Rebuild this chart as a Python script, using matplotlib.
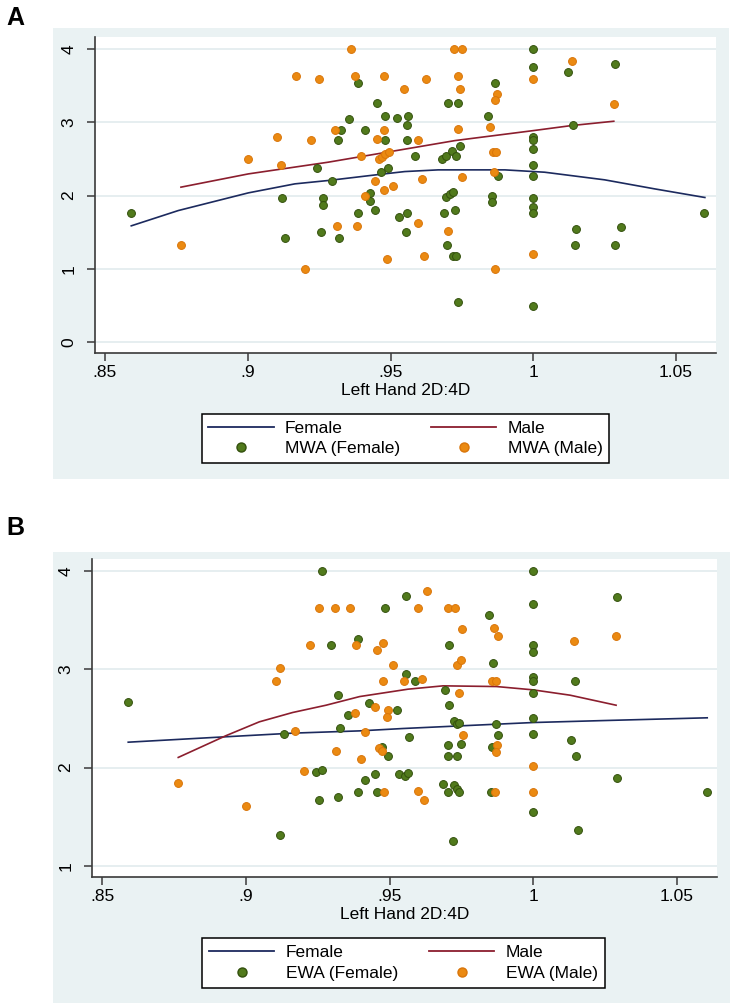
import matplotlib
matplotlib.use("Agg")
import matplotlib.pyplot as plt
from matplotlib.lines import Line2D
from matplotlib.patches import Rectangle

plt.rcParams['font.family'] = ['Liberation Sans', 'DejaVu Sans']

# ---- data, panel A (MWA) ----
a_fem_x = [0.9386, 0.9451, 0.9354, 0.9481, 0.9524, 0.9562, 0.9328, 0.9411, 0.9317, 0.9481,
           0.9557, 0.9557, 0.9244, 0.9296, 0.9467, 0.9491, 0.9120, 0.9264, 0.9264, 0.9429,
           0.9428, 0.9446, 0.9386, 0.9530, 0.9558, 0.9555, 0.9255, 0.9318, 0.9131, 0.8592,
           1.0, 1.0, 1.0122, 1.0285, 0.9867, 0.9702, 0.9738, 0.9840, 1.0140, 1.0,
           1.0, 1.0, 1.0, 1.0, 1.0, 1.0, 1.0, 0.9585, 0.9681, 0.9696,
           0.9714, 0.9731, 0.9743, 0.9875, 0.9696, 0.9708, 0.9720, 0.9854, 0.9857, 0.9689,
           0.9726, 0.9699, 0.9720, 0.9731, 0.9735, 1.0, 1.0150, 1.0145, 1.0309, 1.0286,
           1.0598]
a_fem_y = [3.53, 3.26, 3.05, 3.09, 3.06, 3.09, 2.89, 2.89, 2.76, 2.76,
           2.96, 2.76, 2.37, 2.20, 2.32, 2.37, 1.96, 1.96, 1.87, 2.04,
           1.92, 1.80, 1.76, 1.71, 1.76, 1.50, 1.50, 1.42, 1.42, 1.76,
           4.00, 3.76, 3.69, 3.80, 3.54, 3.26, 3.26, 3.09, 2.96, 2.80,
           2.76, 2.63, 2.42, 2.26, 1.96, 1.84, 1.76, 2.54, 2.50, 2.54,
           2.61, 2.54, 2.68, 2.26, 1.98, 2.02, 2.05, 1.99, 1.91, 1.76,
           1.80, 1.33, 1.17, 1.17, 0.55, 0.49, 1.54, 1.33, 1.57, 1.33,
           1.76]
a_male_x = [0.9360, 0.9169, 0.9251, 0.9376, 0.9476, 0.9548, 0.9307, 0.9104, 0.9221, 0.9476,
            0.9451, 0.9001, 0.9115, 0.9398, 0.9459, 0.9469, 0.9482, 0.9494, 0.9445, 0.9476,
            0.9507, 0.9412, 0.9311, 0.9383, 0.8766, 0.9488, 0.9201,
            0.9722, 0.9749, 1.0134, 0.9626, 0.9738, 0.9745, 1.0, 0.9874, 0.9867, 1.0282,
            0.9735, 0.9850, 0.9597, 0.9859, 0.9870, 0.9610, 0.9752, 0.9863, 0.9597, 0.9702,
            0.9617, 1.0, 0.9867]
a_male_y = [4.00, 3.63, 3.59, 3.63, 3.63, 3.45, 2.89, 2.80, 2.76, 2.89,
            2.77, 2.50, 2.42, 2.54, 2.50, 2.53, 2.57, 2.59, 2.20, 2.08,
            2.13, 2.00, 1.59, 1.59, 1.33, 1.13, 1.00,
            4.00, 4.00, 3.83, 3.59, 3.63, 3.46, 3.59, 3.39, 3.30, 3.25,
            2.91, 2.93, 2.76, 2.59, 2.59, 2.22, 2.25, 2.32, 1.63, 1.51,
            1.17, 1.20, 1.00]
a_fem_fit_x = [0.8592, 0.8757, 0.9002, 0.9165, 0.9282, 0.9457, 0.955, 0.9667, 0.9901,
               1.004, 1.025, 1.0426, 1.0601]
a_fem_fit_y = [1.586, 1.795, 2.036, 2.159, 2.205, 2.286, 2.327, 2.35, 2.35,
               2.318, 2.214, 2.09, 1.973]
a_male_fit_x = [0.8766, 0.9002, 0.9282, 0.9568, 0.9726, 1.0, 1.0134, 1.0282]
a_male_fit_y = [2.114, 2.295, 2.455, 2.645, 2.75, 2.886, 2.955, 3.014]

# ---- data, panel B (EWA) ----
b_fem_x = [0.9265, 0.9558, 0.9484, 0.9389, 0.9298, 0.9558, 0.9319, 0.9430, 0.9355, 0.9526,
           0.8591, 0.9133, 0.9328, 0.9569, 0.9472, 0.9493, 0.9244, 0.9265, 0.9448, 0.9533,
           0.9553, 0.9415, 0.9389, 0.9455, 0.9256, 0.9319, 0.9120,
           1.0, 1.0, 1.0292, 0.9846, 0.9707, 1.0, 1.0, 0.9861, 0.9587, 1.0146,
           1.0, 1.0, 1.0, 0.9692, 0.9707, 0.9724, 0.9733, 0.9742, 0.9872, 1.0,
           0.9878, 1.0, 0.9704, 0.9747, 0.9704, 0.9736, 0.9858, 1.0131, 1.0149, 0.9564,
           1.0292, 0.9686, 0.9704, 0.9724, 0.9733, 0.9741, 0.9852, 1.0, 1.0155, 0.9719,
           1.0605]
b_fem_y = [4.00, 3.75, 3.62, 3.31, 3.25, 2.95, 2.74, 2.66, 2.54, 2.59,
           2.67, 2.34, 2.40, 2.31, 2.21, 2.12, 1.96, 1.98, 1.94, 1.94,
           1.92, 1.87, 1.75, 1.75, 1.67, 1.70, 1.32,
           4.00, 3.66, 3.74, 3.55, 3.25, 3.25, 3.18, 3.06, 2.88, 2.88,
           2.92, 2.88, 2.76, 2.79, 2.64, 2.47, 2.44, 2.45, 2.44, 2.50,
           2.33, 2.34, 2.23, 2.24, 2.12, 2.12, 2.21, 2.28, 2.12, 1.95,
           1.89, 1.83, 1.75, 1.82, 1.78, 1.75, 1.75, 1.55, 1.37, 1.25,
           1.75]
b_male_x = [0.9254, 0.9309, 0.9361, 0.9222, 0.9384, 0.9478, 0.9455, 0.9511, 0.9118, 0.9106,
            0.9478, 0.9549, 0.9448, 0.9496, 0.9490, 0.9379, 0.9170, 0.9415, 0.9313, 0.9401,
            0.9463, 0.9474, 0.9202, 0.9479, 0.8765, 0.9000,
            0.9630, 0.9600, 0.9704, 0.9727, 0.9753, 0.9864, 0.9878, 1.0140, 1.0288, 0.9736,
            0.9747, 0.9614, 0.9855, 0.9872, 0.9742, 0.9756, 0.9875, 0.9872, 1.0, 0.9867,
            1.0, 0.9600, 0.9620]
b_male_y = [3.62, 3.62, 3.62, 3.25, 3.25, 3.27, 3.20, 3.04, 3.01, 2.88,
            2.88, 2.88, 2.62, 2.59, 2.52, 2.56, 2.37, 2.36, 2.17, 2.09,
            2.20, 2.17, 1.97, 1.75, 1.84, 1.61,
            3.80, 3.62, 3.62, 3.62, 3.41, 3.42, 3.34, 3.29, 3.34, 3.04,
            3.09, 2.90, 2.88, 2.88, 2.76, 2.33, 2.23, 2.16, 2.02, 1.75,
            1.75, 1.76, 1.67]
b_fem_fit_x = [0.8591, 0.893, 0.9163, 0.9396, 0.9546, 0.9872, 1.0, 1.0245, 1.0605]
b_fem_fit_y = [2.259, 2.314, 2.351, 2.374, 2.398, 2.442, 2.459, 2.479, 2.507]
b_male_fit_x = [0.8765, 0.893, 0.9047, 0.9163, 0.9279, 0.9396, 0.9564, 0.9686, 0.9872,
                1.0, 1.0128, 1.0288]
b_male_fit_y = [2.104, 2.324, 2.466, 2.561, 2.635, 2.723, 2.798, 2.832, 2.825,
                2.791, 2.737, 2.635]

x_ticks = [0.85, 0.9, 0.95, 1.0, 1.05]
x_tick_labels = [".85", ".9", ".95", "1", "1.05"]

# colours
bg = "#EAF2F3"
navy = "#1C2A5E"
maroon = "#8B1E2E"
green_f, green_e = "#517A1C", "#33500D"
orange_f, orange_e = "#EB8A12", "#D9750A"
axcol = "#3A3A3A"

W, H = 735, 1008
fig = plt.figure(figsize=(W / 100, H / 100), dpi=100)
fig.patch.set_facecolor("white")


def box(x0, y0, x1, y1):
    return [x0 / W, 1 - y1 / H, (x1 - x0) / W, (y1 - y0) / H]


def panel(outer, inner, ylim, yticks, fx, fy, mx, my, ffx, ffy, mfx, mfy,
          xlim, leg_center, name, letter, letter_y):
    ox = box(*outer)
    fig.add_artist(Rectangle((ox[0], ox[1]), ox[2], ox[3], transform=fig.transFigure,
                             facecolor=bg, edgecolor="none", zorder=0))
    ax = fig.add_axes(box(*inner))
    ax.set_facecolor("white")
    ax.plot(ffx, ffy, color=navy, lw=1.2, zorder=3)
    ax.plot(mfx, mfy, color=maroon, lw=1.2, zorder=3)
    ax.scatter(fx, fy, s=32, facecolor=green_f, edgecolor=green_e, linewidth=0.7, zorder=4)
    ax.scatter(mx, my, s=32, facecolor=orange_f, edgecolor=orange_e, linewidth=0.7, zorder=5)
    ax.set_xlim(*xlim)
    ax.set_ylim(*ylim)
    ax.set_xticks(x_ticks, x_tick_labels)
    ax.set_yticks(yticks, [str(t) for t in yticks])
    ax.yaxis.grid(True, color="#E4EDEF", lw=1.3)
    ax.set_axisbelow(True)
    for s in ["top", "right"]:
        ax.spines[s].set_visible(False)
    for s in ["left", "bottom"]:
        ax.spines[s].set_color(axcol)
        ax.spines[s].set_linewidth(1.2)
    ax.tick_params(direction="out", length=5.5, width=1.1, color=axcol, labelsize=12.5)
    ax.tick_params(axis="x", pad=3)
    ax.tick_params(axis="y", pad=8)
    for lab in ax.get_yticklabels():
        lab.set_rotation(90)
        lab.set_va("center")
    ax.set_xlabel("Left Hand 2D:4D", fontsize=12.5)
    ax.xaxis.set_label_coords(0.5, -0.132)
    ax.xaxis.label.set_va("baseline")

    handles = [Line2D([], [], color=navy, lw=1.3),
               Line2D([], [], ls="", marker="o", ms=6.5, mfc=green_f, mec=green_e),
               Line2D([], [], color=maroon, lw=1.3),
               Line2D([], [], ls="", marker="o", ms=6.5, mfc=orange_f, mec=orange_e)]
    labels = ["Female", name + " (Female)", "Male", name + " (Male)"]
    leg = fig.legend(handles, labels, loc="center",
                     bbox_to_anchor=(leg_center[0] / W, 1 - leg_center[1] / H),
                     ncol=2, fontsize=12.5, frameon=True, fancybox=False,
                     edgecolor="black", framealpha=1, handlelength=3.75,
                     handletextpad=0.65, columnspacing=1.8, labelspacing=0.3,
                     borderpad=0.4)
    leg.get_frame().set_linewidth(1.1)
    fig.text(6 / W, 1 - letter_y / H, letter, fontsize=18, fontweight="bold", va="baseline")
    return ax


panel((53, 28, 729, 479), (95, 37, 716, 353), (-0.150, 4.164), [0, 1, 2, 3, 4],
      a_fem_x, a_fem_y, a_male_x, a_male_y,
      a_fem_fit_x, a_fem_fit_y, a_male_fit_x, a_male_fit_y,
      (0.8465, 1.064), (405.5, 438.5), "MWA", "A", 25)

panel((53, 552, 730, 1003), (92, 559, 717, 877), (0.888, 4.122), [1, 2, 3, 4],
      b_fem_x, b_fem_y, b_male_x, b_male_y,
      b_fem_fit_x, b_fem_fit_y, b_male_fit_x, b_male_fit_y,
      (0.8465, 1.0639), (403.5, 963), "EWA", "B", 535)

fig.savefig("out.png", dpi=100)
